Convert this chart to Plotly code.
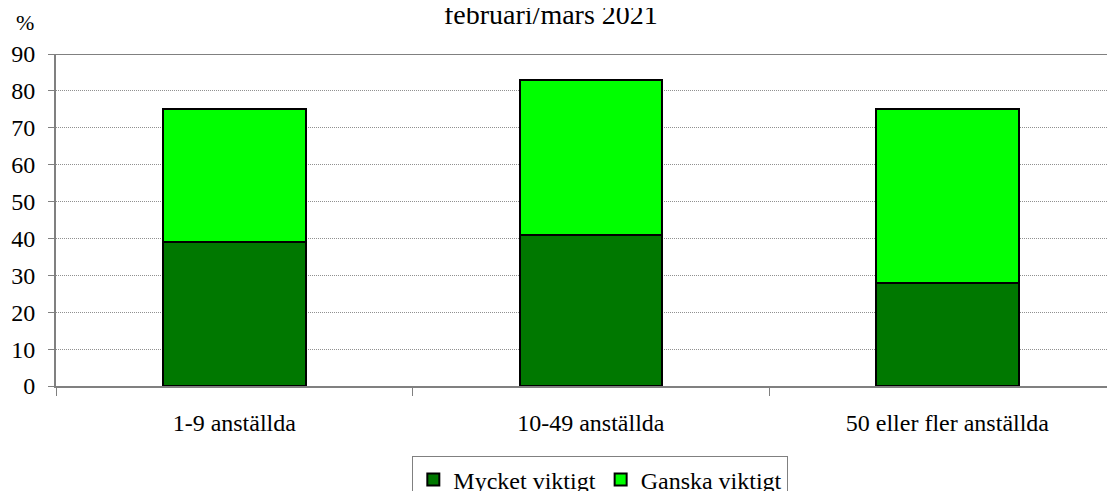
import plotly.graph_objects as go

# data
kategorier = ["1-9 anställda", "10-49 anställda", "50 eller fler anställda"]
mycket_viktigt = [39, 41, 28]
ganska_viktigt = [36, 42, 47]
yticks = [0, 10, 20, 30, 40, 50, 60, 70, 80, 90]

font = "Liberation Serif"

fig = go.Figure()
fig.add_trace(go.Bar(x=kategorier, y=mycket_viktigt, name="Mycket viktigt",
                     marker=dict(color="#007800", line=dict(color="black", width=2))))
fig.add_trace(go.Bar(x=kategorier, y=ganska_viktigt, name="Ganska viktigt",
                     marker=dict(color="#00ff00", line=dict(color="black", width=2))))

# page has an 8px body margin, so margins are 8px less on left/top
fig.update_layout(
    barmode="stack",
    bargap=0.6,
    width=1115, height=491,
    margin=dict(l=48, r=8, t=46, b=113, autoexpand=False),
    paper_bgcolor="white", plot_bgcolor="white",
    font=dict(family=font, size=24, color="black"),
    showlegend=True,
    legend=dict(orientation="h", x=0.514, xanchor="center", y=-0.212, yanchor="top",
                bordercolor="#808080", borderwidth=1, font=dict(family=font, size=24),
                traceorder="normal", itemwidth=30),
)
fig.update_xaxes(
    range=[-0.5, 2.47], automargin=False,
    showline=True, linecolor="#808080", linewidth=2,
    ticks="outside", tickson="boundaries", ticklen=8, tickcolor="#808080",
    ticklabelstandoff=14, tickfont=dict(family=font, size=24),
    showgrid=False,
)
fig.update_yaxes(
    range=[0, 90], tickvals=yticks, automargin=False,
    showline=True, linecolor="#808080", linewidth=2,
    ticks="outside", ticklen=6, tickcolor="#808080",
    ticklabelstandoff=8, tickfont=dict(family=font, size=24),
    showgrid=True, gridcolor="#909090", griddash="1px,1px", gridwidth=1,
    zeroline=False,
)
# top border line at 90
fig.add_shape(type="line", xref="paper", yref="y", x0=0, x1=1, y0=90, y1=90,
              line=dict(color="#808080", width=2))

fig.add_annotation(text="februari/mars 2021", xref="paper", yref="paper",
                   x=0.467, y=1.0, yshift=40, showarrow=False, xanchor="center",
                   yanchor="middle", font=dict(family=font, size=28))
fig.add_annotation(text="%", xref="paper", yref="paper", x=-0.029, y=1.0, yshift=32,
                   showarrow=False, xanchor="center", yanchor="middle",
                   font=dict(family=font, size=22))

fig.write_html("out.html")
